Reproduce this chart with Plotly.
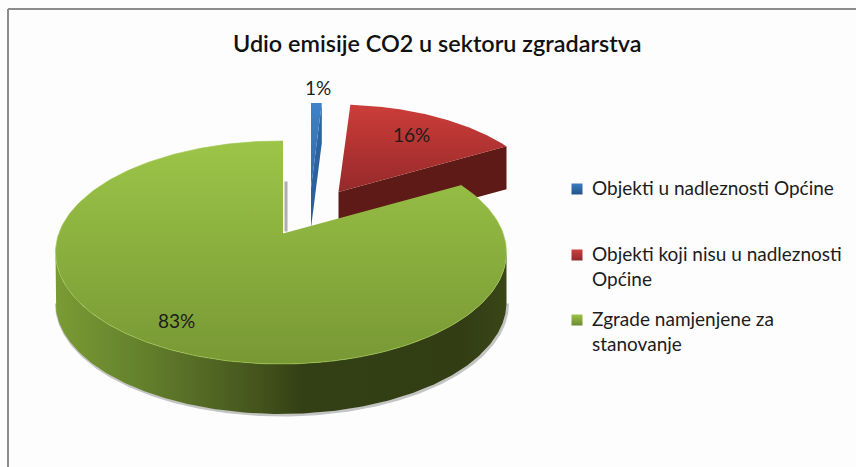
import numpy as np
import plotly.graph_objects as go

# --- data ---
categories = ["Objekti u nadleznosti Općine",
              "Objekti koji nisu u nadleznosti<br>Općine",
              "Zgrade namjenjene za<br>stanovanje"]
values = [1, 16, 83]
title_text = "Udio emisije CO2 u sektoru zgradarstva"

# --- styles / geometry of the 3D pie (pixel space of the 856x467 page) ---
W, H = 856, 467
RX, RY = 225.5, 111.5          # ellipse radii of the full-size disc
DX, DY = -2.0, 19.0            # ellipse centre relative to the slice apex
apexes = [(311, 188), (338.5, 192), (283, 233.5)]
scales = [0.92, 0.945, 1.0]
depths = [40, 43, 50]
top_grad = [["#3f82c8", "#2f6aa8"], ["#cc3d39", "#96292a"], ["#9cc548", "#789834"]]
side_grad = [["#2e66a4", "#2a5e98"], ["#5e1a16", "#5e1a16"], None]
legend_colors = ["#3a7cc4", "#cf4040", "#9cc24a"]
legend_dark = ["#245388", "#8f2a2c", "#6c8a30"]
legend_marker_xy = [(577, 189), (577, 255), (577, 320)]
legend_text_xy = [(591, 175), (591, 241), (591, 306)]
label_xy = [(318, 87), (411, 134), (176, 320)]
FONT = "Lato"


def rim(theta_deg, apex, k):
    """Point on the slice rim at a clockwise angle from 12 o'clock."""
    th = np.radians(theta_deg)
    s, c = np.sin(th), np.cos(th)
    px, py = -DX / RX, -DY / RY
    b = px * s - py * c
    t = -b + np.sqrt(b * b - (px * px + py * py - 1))
    return apex[0] + k * RX * s * t, apex[1] - k * RY * c * t


def vgrad(cols):
    return dict(type="vertical", colorscale=[[0, cols[1]], [1, cols[0]]])


fig = go.Figure()


def poly(x, y, fillgradient=None, fillcolor=None, line=None):
    kw = dict(x=x, y=y, mode="lines", fill="toself", hoverinfo="skip", showlegend=False,
              line=line or dict(width=0))
    if fillgradient:
        kw["fillgradient"] = fillgradient
    else:
        kw["fillcolor"] = fillcolor
    fig.add_trace(go.Scatter(**kw))


edges = np.concatenate([[0], np.cumsum(values) / np.sum(values) * 360])

for i in range(3):
    a0, a1 = edges[i], edges[i + 1]
    ap, k, d = apexes[i], scales[i], depths[i]
    th = np.linspace(a0, a1, 240)
    rx_, ry_ = rim(th, ap, k)
    if i < 2:
        # cut face that looks at the viewer
        ex, ey = rim(a1, ap, k)
        poly([ap[0], ex, ex, ap[0]], [ap[1], ey, ey + d, ap[1] + d],
             fillgradient=vgrad(side_grad[i]))
    else:
        # soft shadow and outer wall of the large slice
        tt = np.linspace(0, np.pi, 240)
        cx, cy = ap[0] + DX, ap[1] + DY
        wx = cx + RX * np.cos(tt)
        wy = cy + RY * np.sin(tt)
        fig.add_trace(go.Scatter(x=wx + 1, y=wy + d + 1, mode="lines", hoverinfo="skip",
                                 showlegend=False, line=dict(color="rgba(90,90,90,0.35)", width=3)))
        poly(np.concatenate([wx, wx[::-1]]), np.concatenate([wy, wy[::-1] + d]),
             fillgradient=dict(type="horizontal", colorscale=[
                 [0, "#7a9b34"], [0.2, "#637f2c"], [0.45, "#44541c"],
                 [0.55, "#333f15"], [0.9, "#323d14"], [1, "#3a4617"]]))
        # shadow along the cut at 12 o'clock
        fig.add_trace(go.Scatter(x=[ap[0] + 3, ap[0] + 3], y=[ap[1] - 52, ap[1] - 2], mode="lines",
                                 hoverinfo="skip", showlegend=False,
                                 line=dict(color="rgba(110,110,110,0.55)", width=3)))
    # top face
    poly(np.concatenate([[ap[0]], rx_, [ap[0]]]), np.concatenate([[ap[1]], ry_, [ap[1]]]),
         fillgradient=vgrad(top_grad[i]))
    if i == 2:
        fig.add_trace(go.Scatter(x=rx_, y=ry_, mode="lines", hoverinfo="skip", showlegend=False,
                                 line=dict(color="rgba(160,200,80,0.7)", width=1)))

# legend keys, placed to sit on the first line of each entry
for i, cat in enumerate(categories):
    fig.add_trace(go.Scatter(x=[legend_marker_xy[i][0]], y=[legend_marker_xy[i][1]], mode="markers",
                             name=cat.replace("<br>", " "), showlegend=False, hoverinfo="skip",
                             marker=dict(symbol="square", size=11, color=legend_colors[i],
                                         gradient=dict(type="vertical", color=legend_dark[i]))))

annotations = [dict(x=label_xy[i][0], y=label_xy[i][1], text=f"{values[i]}%", showarrow=False,
                    xref="x", yref="y", font=dict(family=FONT, size=19, color="#1c1c1c"))
               for i in range(3)]
annotations += [dict(x=legend_text_xy[i][0], y=legend_text_xy[i][1], text=categories[i], showarrow=False,
                     xref="x", yref="y", xanchor="left", yanchor="top", align="left", borderpad=0,
                     font=dict(family=FONT, size=19, color="#1c1c1c"))
                for i in range(3)]
annotations.append(dict(x=437, y=43, text=title_text, showarrow=False, xref="x", yref="y",
                        font=dict(family=FONT, size=23.4, color="#111111", weight=600)))

fig.update_layout(
    width=W, height=H, margin=dict(l=0, r=0, t=0, b=0),
    paper_bgcolor="white", plot_bgcolor="#fdfdfd",
    xaxis=dict(range=[0, W], visible=False, fixedrange=True),
    yaxis=dict(range=[H, 0], visible=False, fixedrange=True),
    annotations=annotations,
    shapes=[dict(type="line", xref="x", yref="y", x0=8, x1=8, y0=9, y1=H,
                 line=dict(color="#8c8c8c", width=2)),
            dict(type="line", xref="x", yref="y", x0=8, x1=W, y0=9, y1=9,
                 line=dict(color="#8c8c8c", width=2))],
    showlegend=False,
)
fig.write_html("out.html", config={"displayModeBar": False},
               post_script="document.body.style.margin='0';document.documentElement.style.overflow='hidden';")
